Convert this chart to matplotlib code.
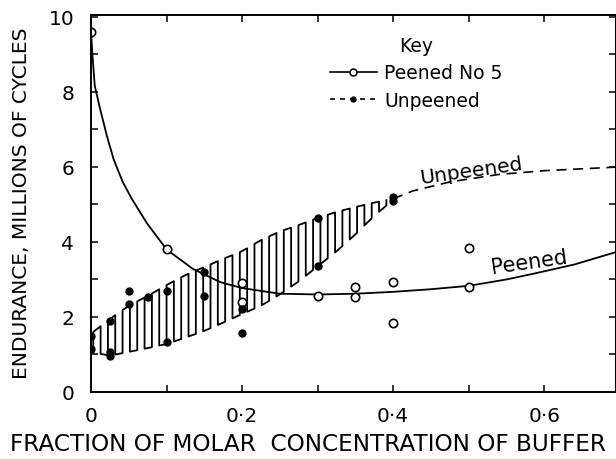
import numpy as np
import matplotlib
matplotlib.use("Agg")
import matplotlib.pyplot as plt

# peened (open circles) and unpeened (filled dots) test results
peened_x = [0.0, 0.1, 0.2, 0.2, 0.3, 0.35, 0.35, 0.4, 0.4, 0.5, 0.5]
peened_y = [9.6, 3.8, 2.9, 2.4, 2.57, 2.8, 2.53, 2.93, 1.84, 3.84, 2.8]

unpeened_x = [0.0, 0.0, 0.025, 0.025, 0.025, 0.05, 0.05, 0.075, 0.1, 0.1,
              0.15, 0.15, 0.2, 0.2, 0.3, 0.3, 0.4, 0.4]
unpeened_y = [1.5, 1.15, 1.9, 1.07, 0.95, 2.7, 2.35, 2.53, 2.69, 1.33,
              3.19, 2.57, 2.2, 1.57, 4.63, 3.37, 5.2, 5.1]

# fitted curve through peened results
curve_p_x = [0.0, 0.002, 0.005, 0.012, 0.021, 0.03, 0.042, 0.054, 0.074, 0.1,
             0.135, 0.171, 0.2, 0.25, 0.3, 0.35, 0.4, 0.45, 0.5, 0.55,
             0.585, 0.64, 0.7]
curve_p_y = [9.6, 8.96, 8.16, 7.55, 6.83, 6.2, 5.6, 5.15, 4.5, 3.8,
             3.28, 2.93, 2.77, 2.62, 2.6, 2.62, 2.67, 2.74, 2.83, 3.0,
             3.15, 3.4, 3.76]

# dashed unpeened curve beyond the scatter band
curve_u_x = [0.4, 0.426, 0.475, 0.54, 0.6, 0.7]
curve_u_y = [5.15, 5.36, 5.6, 5.8, 5.9, 6.0]

# scatter band of unpeened results
band_x = [0.003, 0.025, 0.05, 0.075, 0.1, 0.125, 0.15, 0.175, 0.2, 0.225,
          0.25, 0.275, 0.3, 0.325, 0.35, 0.375, 0.4]
band_hi = [1.6, 1.95, 2.3, 2.56, 2.85, 3.12, 3.33, 3.55, 3.75, 4.05,
           4.28, 4.45, 4.64, 4.8, 4.93, 5.05, 5.15]
band_lo = [1.05, 0.97, 1.07, 1.17, 1.28, 1.45, 1.63, 1.85, 2.08, 2.3,
           2.6, 2.95, 3.35, 3.75, 4.2, 4.7, 5.12]

xtick_vals = [0.0, 0.2, 0.4, 0.6]
xtick_text = ["0", "0·2", "0·4", "0·6"]
ytick_vals = [0, 2, 4, 6, 8, 10]

fig = plt.figure(figsize=(6.16, 4.6), dpi=100)
ax = fig.add_axes([91/616, 1-393/460, 1-91/616, (393-16)/460])

# meander hatching of the band
hx = np.arange(band_x[0], band_x[-1], 0.0097)
top = np.interp(hx, band_x, band_hi)
bot = np.interp(hx, band_x, band_lo)
px, py = [], []
for i in range(len(hx)):
    if i % 2 == 0:
        px += [hx[i], hx[i]]; py += [bot[i], top[i]]
    else:
        px += [hx[i], hx[i]]; py += [top[i], bot[i]]
ax.plot(px, py, color="black", lw=1.3)

ax.plot(curve_p_x, curve_p_y, color="black", lw=1.3)
ax.plot(curve_u_x, curve_u_y, color="black", lw=1.2, dashes=(6, 4))

ax.plot(peened_x, peened_y, "o", ms=6, mfc="white", mec="black", mew=1.2)
ax.plot(unpeened_x, unpeened_y, "o", ms=5, color="black")

# legend handles
ax.plot([], [], "-o", color="black", lw=1.2, ms=5, mfc="white", mew=1.1,
        label="Peened No 5")
ax.plot([], [], "o", color="black", lw=1.2, ms=3.5, ls=(0, (3, 3)),
        label="Unpeened")
leg = ax.legend(title="Key", loc="upper left", bbox_to_anchor=(0.43, 0.98),
                frameon=False, fontsize=13.5, title_fontsize=13.5,
                handlelength=2.5, handletextpad=0.4, labelspacing=0.45,
                borderpad=0.2)

ax.text(0.503, 5.9, "Unpeened", fontsize=14.5, rotation=8, ha="center", va="center")
ax.text(0.58, 3.47, "Peened", fontsize=15, rotation=8, ha="center", va="center")

ax.set_xlim(0, 0.695)
ax.set_ylim(0, 10.05)
ax.set_xticks(xtick_vals)
ax.set_xticklabels(xtick_text)
ax.set_xticks(np.arange(0.1, 0.7, 0.2), minor=True)
ax.set_yticks(ytick_vals)
ax.set_yticks(np.arange(1, 10, 2), minor=True)
ax.tick_params(which="both", direction="in", length=5, width=1.1,
               top=True, right=True, labelsize=14.5)
ax.tick_params(axis="x", pad=10)
ax.tick_params(axis="y", pad=12)
for s in ax.spines.values():
    s.set_linewidth(1.4)

ax.set_xlabel("FRACTION OF MOLAR  CONCENTRATION OF BUFFER", fontsize=16.7)
ax.xaxis.set_label_coords(0.413, -0.105)
ax.set_ylabel("ENDURANCE, MILLIONS OF CYCLES", fontsize=14.5)
ax.yaxis.set_label_coords(-0.115, 0.504)

fig.savefig("out.png", dpi=100)
